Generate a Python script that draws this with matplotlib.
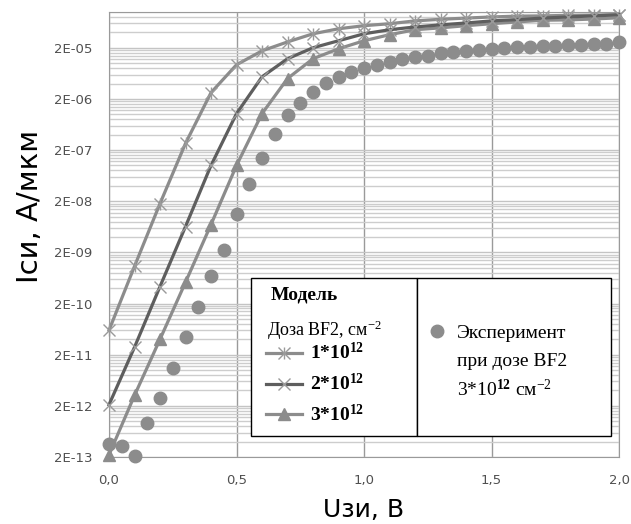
import numpy as np
import matplotlib
matplotlib.use('Agg')
import matplotlib.pyplot as plt
from matplotlib.patches import Rectangle
from matplotlib.ticker import FixedLocator, FixedFormatter, NullFormatter

plt.rcParams['mathtext.default'] = 'regular'
plt.rcParams['mathtext.fontset'] = 'custom'
plt.rcParams['mathtext.rm'] = 'Liberation Serif'
plt.rcParams['mathtext.bf'] = 'Liberation Serif:bold'

# напряжение затвора, В
u_model = [0.0, 0.1, 0.2, 0.3, 0.4, 0.5, 0.6, 0.7, 0.8, 0.9, 1.0,
           1.1, 1.2, 1.3, 1.4, 1.5, 1.6, 1.7, 1.8, 1.9, 2.0]
i_model1 = [6.0e-11, 1.07e-9, 1.8e-8, 2.7e-7, 2.65e-6, 9.3e-6, 1.74e-5, 2.6e-5, 3.75e-5, 4.7e-5, 5.4e-5,
            5.9e-5, 6.7e-5, 7.2e-5, 7.6e-5, 8.0e-5, 8.3e-5, 8.4e-5, 8.6e-5, 8.7e-5, 8.9e-5]
i_model2 = [2.1e-12, 2.8e-11, 4.3e-10, 6.4e-9, 1.0e-7, 1.03e-6, 5.4e-6, 1.22e-5, 2.0e-5, 2.74e-5, 3.75e-5,
            4.5e-5, 5.1e-5, 5.6e-5, 6.1e-5, 6.7e-5, 7.1e-5, 7.6e-5, 8.0e-5, 8.4e-5, 8.8e-5]
i_model3 = [2.2e-13, 3.2e-12, 4.0e-11, 5.2e-10, 7.0e-9, 1.0e-7, 1.03e-6, 5.0e-6, 1.22e-5, 1.91e-5, 2.74e-5,
            3.6e-5, 4.5e-5, 4.9e-5, 5.4e-5, 5.9e-5, 6.4e-5, 6.9e-5, 7.0e-5, 7.3e-5, 7.7e-5]

u_exp = [0.00, 0.05, 0.10, 0.15, 0.20, 0.25, 0.30, 0.35, 0.40, 0.45, 0.50,
         0.55, 0.60, 0.65, 0.70, 0.75, 0.80, 0.85, 0.90, 0.95, 1.00,
         1.05, 1.10, 1.15, 1.20, 1.25, 1.30, 1.35, 1.40, 1.45, 1.50,
         1.55, 1.60, 1.65, 1.70, 1.75, 1.80, 1.85, 1.90, 1.95, 2.00]
i_exp = [3.6e-13, 3.3e-13, 2.1e-13, 9.2e-13, 2.8e-12, 1.09e-11, 4.4e-11, 1.69e-10, 6.8e-10, 2.2e-9, 1.15e-8,
         4.25e-8, 1.43e-7, 4.2e-7, 9.9e-7, 1.69e-6, 2.77e-6, 4.15e-6, 5.4e-6, 6.8e-6, 8.1e-6,
         9.3e-6, 1.07e-5, 1.22e-5, 1.33e-5, 1.37e-5, 1.6e-5, 1.65e-5, 1.74e-5, 1.8e-5, 1.9e-5,
         2.0e-5, 2.05e-5, 2.1e-5, 2.2e-5, 2.2e-5, 2.3e-5, 2.3e-5, 2.4e-5, 2.4e-5, 2.6e-5]

y_ticks = [2e-13, 2e-12, 2e-11, 2e-10, 2e-9, 2e-8, 2e-7, 2e-6, 2e-5]
y_ticklabels = ['2E-13', '2E-12', '2E-11', '2E-10', '2E-09', '2E-08', '2E-07', '2E-06', '2E-05']
x_ticks = [0.0, 0.5, 1.0, 1.5, 2.0]
x_ticklabels = ['0,0', '0,5', '1,0', '1,5', '2,0']

light = '#8c8c8c'
dark = '#5e5e5e'

fig = plt.figure(figsize=(6.31, 5.24), dpi=100)
ax = fig.add_axes([109/631, 1 - 457/524, 510/631, 445/524])
ax.set_yscale('log')
ax.set_xlim(0, 2.0)
ax.set_ylim(2e-13, 1e-4)

# сетка
minor = [b * k for b in y_ticks for k in range(2, 10)]
ax.yaxis.set_major_locator(FixedLocator(y_ticks))
ax.yaxis.set_major_formatter(FixedFormatter(y_ticklabels))
ax.yaxis.set_minor_locator(FixedLocator(minor))
ax.yaxis.set_minor_formatter(NullFormatter())
ax.xaxis.set_major_locator(FixedLocator(x_ticks))
ax.xaxis.set_major_formatter(FixedFormatter(x_ticklabels))
ax.grid(which='major', axis='y', color='#c4c4c4', lw=1.0)
ax.grid(which='minor', axis='y', color='#cdcdcd', lw=1.0)
ax.grid(which='major', axis='x', color='#9a9a9a', lw=1.0)
ax.set_axisbelow(True)
ax.tick_params(which='both', length=0)
ax.tick_params(axis='y', pad=12, labelsize=9.5, labelcolor='#505050')
ax.tick_params(axis='x', pad=12, labelsize=9.5, labelcolor='#505050')
for s in ax.spines.values():
    s.set_color('#9a9a9a')

l1, = ax.plot(u_model, i_model1, color=light, lw=2.3, marker='x', ms=8, mew=1.0,
              mec='#9a9a9a', clip_on=False, zorder=3)
l1b, = ax.plot(u_model, i_model1, ls='none', marker='|', ms=9, mew=1.0,
               mec='#9a9a9a', clip_on=False, zorder=3)
l2, = ax.plot(u_model, i_model2, color=dark, lw=2.3, marker='x', ms=8, mew=1.0,
              mec='#9a9a9a', clip_on=False, zorder=4)
l3, = ax.plot(u_model, i_model3, color=light, lw=2.3, marker='^', ms=8,
              mfc=light, mec=light, clip_on=False, zorder=3)
le, = ax.plot(u_exp, i_exp, ls='none', marker='o', ms=9, color=light,
              clip_on=False, zorder=5)

ax.set_xlabel('Uзи, В', fontsize=18, labelpad=8)
ax.set_ylabel('Iси, А/мкм', fontsize=21)
ax.yaxis.set_label_coords(-0.127, 0.562)

# легенда
ax.add_patch(Rectangle((0.2784, 0.0472), 0.3255, 0.355, transform=ax.transAxes,
                       fc='white', ec='black', lw=1.0, zorder=6))
ax.add_patch(Rectangle((0.6039, 0.0472), 0.3804, 0.355, transform=ax.transAxes,
                       fc='white', ec='black', lw=1.0, zorder=6))
serif = 'Liberation Serif'
ax.text(0.316, 0.364, 'Модель', transform=ax.transAxes, family=serif, fontsize=14,
        fontweight='bold', va='center', ha='left', zorder=7)
ax.text(0.31, 0.285, 'Доза BF2, см$^{-2}$', transform=ax.transAxes, family=serif,
        fontsize=13, va='center', ha='left', zorder=7)
leg1 = ax.legend([(l1, l1b), l2, l3], ['1*10$^{12}$', '2*10$^{12}$', '3*10$^{12}$'],
                 loc='upper left', bbox_to_anchor=(0.308, 0.258), frameon=False,
                 prop={'family': serif, 'size': 14, 'weight': 'bold'},
                 handlelength=1.85, handletextpad=0.41, labelspacing=0.5,
                 borderpad=0, borderaxespad=0)
leg1.set_zorder(8)
ax.add_artist(leg1)
leg2 = ax.legend([le], ['Эксперимент'], loc='upper left', bbox_to_anchor=(0.6235, 0.298),
                 frameon=False, prop={'family': serif, 'size': 14},
                 handlelength=1.05, handletextpad=0.5, borderpad=0, borderaxespad=0)
leg2.set_zorder(8)
ax.text(0.682, 0.214, 'при дозе BF2', transform=ax.transAxes, family=serif,
        fontsize=14, va='center', ha='left', zorder=9)
ax.text(0.682, 0.152, '3*10$^{\\mathbf{12}}$ см$^{-2}$', transform=ax.transAxes, family=serif,
        fontsize=14, va='center', ha='left', zorder=9)

fig.savefig('out.png', dpi=100)
